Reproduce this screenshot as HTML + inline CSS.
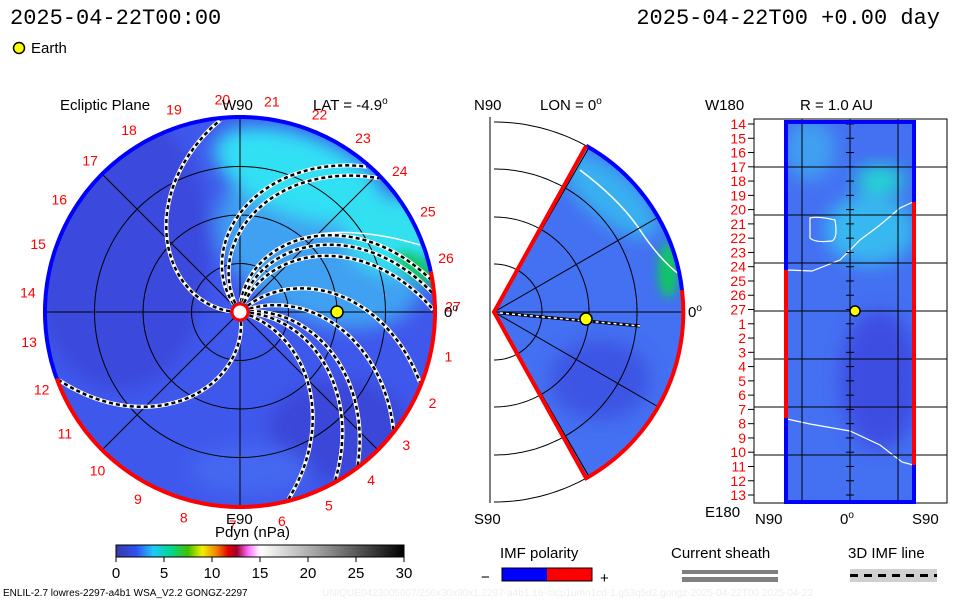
<!DOCTYPE html>
<html><head><meta charset="utf-8">
<style>
body{margin:0;background:#fff;width:960px;height:600px;overflow:hidden}
svg{display:block;font-family:"Liberation Sans",sans-serif}
.t{font-size:15px;fill:#000}
.r{font-size:14px;fill:#f00}
</style></head>
<body>
<svg id="c" width="960" height="600" viewBox="0 0 960 600">
<defs>
<filter id="bl" x="-50%" y="-50%" width="200%" height="200%"><feGaussianBlur stdDeviation="9"/></filter>
<filter id="bl2" x="-50%" y="-50%" width="200%" height="200%"><feGaussianBlur stdDeviation="5"/></filter>
<clipPath id="cc"><circle cx="240" cy="312" r="195"/></clipPath>
<clipPath id="wc"><path d="M494,312 L586.1,145.8 A190,190 0 0,1 586.1,478.2 Z"/></clipPath>
<clipPath id="rc"><rect x="785" y="122" width="130" height="380"/></clipPath>
<linearGradient id="cb" x1="0" x2="1" y1="0" y2="0">
<stop offset="0" stop-color="#3a3aa8"/><stop offset="0.07" stop-color="#3050f0"/><stop offset="0.13" stop-color="#20c8f8"/>
<stop offset="0.19" stop-color="#00d890"/><stop offset="0.25" stop-color="#40c000"/><stop offset="0.3" stop-color="#f0f000"/>
<stop offset="0.35" stop-color="#f08000"/><stop offset="0.39" stop-color="#e00000"/><stop offset="0.42" stop-color="#a00030"/>
<stop offset="0.46" stop-color="#ff70ff"/><stop offset="0.5" stop-color="#ffffff"/><stop offset="0.7" stop-color="#a0a0a0"/>
<stop offset="1" stop-color="#000"/></linearGradient>
</defs>

<text x="10" y="24" font-family="Liberation Mono,monospace" font-size="22">2025-04-22T00:00</text>
<text x="940" y="24" text-anchor="end" font-family="Liberation Mono,monospace" font-size="22">2025-04-22T00 +0.00 day</text>
<g><circle cx="19" cy="48" r="5.5" fill="#ff0" stroke="#000" stroke-width="1.5"/><text x="31" y="53" class="t">Earth</text></g>

<!-- Ecliptic panel -->
<g>
<g clip-path="url(#cc)">
<rect x="40" y="110" width="400" height="400" fill="#3f58ec"/>
<g filter="url(#bl)">
<ellipse cx="120" cy="250" rx="90" ry="140" fill="#3a48dc"/>
<ellipse cx="320" cy="250" rx="110" ry="70" fill="#40a0f2" transform="rotate(25 320 250)"/>
<ellipse cx="300" cy="175" rx="90" ry="40" fill="#30e0f4" transform="rotate(20 300 175)"/>
<ellipse cx="395" cy="235" rx="50" ry="40" fill="#30e0f0"/>
<ellipse cx="340" cy="430" rx="70" ry="50" fill="#3a46d8"/>
<ellipse cx="250" cy="470" rx="60" ry="25" fill="#4468f0"/>
</g>
<ellipse cx="418" cy="268" rx="25" ry="10" fill="#10c860" filter="url(#bl2)" transform="rotate(35 418 268)"/>
<g id="grid1" stroke="#000" stroke-width="1" fill="none"></g>
<g id="spirals"></g>
</g>
<path id="b1" fill="none" stroke-width="4"/>
<circle cx="240" cy="312" r="8" fill="#fff" stroke="#f00" stroke-width="3"/>
<circle cx="337" cy="312" r="6" fill="#ff0" stroke="#000" stroke-width="1.5"/>
<g id="daylabels"></g>
<text x="60" y="110" class="t">Ecliptic Plane</text>
<text x="222" y="110" class="t">W90</text>
<text x="313" y="110" class="t">LAT = -4.9<tspan dy="-6" font-size="10">o</tspan></text>
<text x="444" y="317" class="t">0<tspan dy="-6" font-size="10">o</tspan></text>
<text x="226" y="524" class="t">E90</text>
</g>

<!-- Meridional panel -->
<g>
<g id="grid2" stroke="#000" stroke-width="1" fill="none"></g>
<g clip-path="url(#wc)">
<rect x="490" y="140" width="200" height="345" fill="#4470f2"/>
<g filter="url(#bl)">
<ellipse cx="610" cy="195" rx="60" ry="25" fill="#38b0f0" transform="rotate(40 610 195)"/>
<ellipse cx="600" cy="380" rx="50" ry="40" fill="#3c55e4"/>
</g>
<ellipse cx="668" cy="270" rx="10" ry="28" fill="#10c860" filter="url(#bl2)"/>
<path d="M580,170 Q620,200 640,230 T680,275" stroke="#fff" stroke-width="1.5" fill="none"/>
<g id="grid2b" stroke="#000" stroke-width="1" fill="none"></g>
</g>
<path d="M586.1,145.8 A190,190 0 0,1 682,290" fill="none" stroke="#00f" stroke-width="4"/>
<path d="M682,290 A190,190 0 0,1 586.1,478.2 L494,312 L586.1,145.8" fill="none" stroke="#f00" stroke-width="4"/>
<line x1="500" y1="313" x2="640" y2="326" stroke="#000" stroke-width="3"/>
<line x1="500" y1="313" x2="640" y2="326" stroke="#fff" stroke-width="1.5" stroke-dasharray="3 3"/>
<circle cx="586" cy="319" r="6" fill="#ff0" stroke="#000" stroke-width="1.5"/>
<text x="474" y="110" class="t">N90</text>
<text x="540" y="110" class="t">LON = 0<tspan dy="-6" font-size="10">o</tspan></text>
<text x="688" y="317" class="t">0<tspan dy="-6" font-size="10">o</tspan></text>
<text x="474" y="524" class="t">S90</text>
</g>

<!-- 1 AU panel -->
<g>
<rect x="754" y="119" width="193" height="384" fill="#fff" stroke="#000"/>
<g clip-path="url(#rc)">
<rect x="785" y="122" width="130" height="380" fill="#4470f2"/>
<g filter="url(#bl)">
<ellipse cx="870" cy="230" rx="45" ry="35" fill="#38b8f0"/>
<ellipse cx="880" cy="180" rx="25" ry="14" fill="#20d8d0"/>
<ellipse cx="880" cy="380" rx="40" ry="70" fill="#3c4ee2"/>
<ellipse cx="810" cy="150" rx="25" ry="30" fill="#40a0f0"/>
</g>
<path d="M787,270 L812,271 L840,260 L860,240 L880,225 L900,208 L913,202" stroke="#fff" stroke-width="1.2" fill="none"/>
<path d="M810,218 Q818,216 835,220 Q838,238 832,241 Q815,243 810,238 Z" stroke="#fff" stroke-width="1.2" fill="none"/>
<path d="M787,419 L810,424 L850,431 L880,445 L902,462 L913,465" stroke="#fff" stroke-width="1.2" fill="none"/>
</g>
<g id="grid3" stroke="#000" stroke-width="1"></g>
<rect x="786" y="122" width="128" height="380" fill="none" stroke="#00f" stroke-width="4"/>
<line x1="786" y1="270" x2="786" y2="418" stroke="#f00" stroke-width="4"/>
<line x1="914" y1="202" x2="914" y2="465" stroke="#f00" stroke-width="4"/>
<circle cx="855" cy="311" r="5" fill="#ff0" stroke="#000" stroke-width="1.5"/>
<g id="latlabels"></g>
<text x="705" y="110" class="t">W180</text>
<text x="800" y="110" class="t">R = 1.0 AU</text>
<text x="705" y="517" class="t">E180</text>
<text x="755" y="524" class="t">N90</text>
<text x="840" y="524" class="t">0<tspan dy="-6" font-size="10">o</tspan></text>
<text x="912" y="524" class="t">S90</text>
</g>

<!-- Colorbar -->
<g>
<text x="215" y="537" class="t">Pdyn (nPa)</text>
<rect x="116" y="545" width="288" height="12" fill="url(#cb)" stroke="#000"/>
<g id="cbticks"></g>
</g>

<g>
<text x="500" y="558" class="t">IMF polarity</text>
<text x="481" y="582" class="t">−</text>
<rect x="502" y="568" width="45" height="13" fill="#00f"/><rect x="547" y="568" width="45" height="13" fill="#f00"/>
<rect x="502" y="568" width="90" height="13" fill="none" stroke="#000"/>
<text x="600" y="583" class="t">+</text>
</g>
<g>
<text x="671" y="558" class="t">Current sheath</text>
<rect x="682" y="570" width="96" height="4" fill="#808080"/><rect x="682" y="577" width="96" height="5" fill="#808080"/>
</g>
<g>
<text x="848" y="558" class="t">3D IMF line</text>
<rect x="850" y="569" width="87" height="13" fill="#d0d0d0"/>
<line x1="850" y1="575.5" x2="937" y2="575.5" stroke="#000" stroke-width="3" stroke-dasharray="8 6"/>
</g>
<text x="3" y="596" font-size="10">ENLIL-2.7 lowres-2297-a4b1 WSA_V2.2 GONGZ-2297</text>
<text x="322" y="596" font-size="10" fill="#eeeeee">UNIQUE0423005607/256x30x90x1.2297-a4b1.16-mcp1umn1cd-1.g53q5d2.gongz-2025-04-22T00   2025-04-23</text>
</svg>
<script>
const NS="http://www.w3.org/2000/svg";
const cbTicks=[0,5,10,15,20,25,30];
const dayLabels=[1,2,3,4,5,6,7,8,9,10,11,12,13,14,15,16,17,18,19,20,21,22,23,24,25,26,27];
const latLabels=[14,15,16,17,18,19,20,21,22,23,24,25,26,27,1,2,3,4,5,6,7,8,9,10,11,12,13];
const spiralEnds=[-95,-48,-43,-9,-5,0,22,38,53,61,76,160];
const spiralTwist=[85,85,80,80,75,70,65,60,60,60,60,80];
const ringRadiiAU=[0.5,1,1.5];
function el(tag,attrs,parent){const e=document.createElementNS(NS,tag);for(const k in attrs)e.setAttribute(k,attrs[k]);parent.appendChild(e);return e;}
const cx=240,cy=312,R=195,AU=97;
const g1=document.getElementById('grid1');
ringRadiiAU.forEach(a=>{const c=el('circle',{cx:cx,cy:cy,r:a*AU},g1);});
[0,45,90,135].forEach(d=>{const t=d*Math.PI/180;el('line',{x1:cx-R*Math.cos(t),y1:cy-R*Math.sin(t),x2:cx+R*Math.cos(t),y2:cy+R*Math.sin(t)},g1);});
function arc(a0,a1,r,x0,y0){const p=[];for(let a=a0;a<=a1;a+=1){const t=a*Math.PI/180;p.push((x0+r*Math.cos(t)).toFixed(1)+','+(y0+r*Math.sin(t)).toFixed(1));}return 'M'+p.join(' L');}
const bb=document.getElementById('b1').parentNode;
el('path',{d:arc(160,348,R,cx,cy),fill:'none',stroke:'#00f','stroke-width':4},bb);
el('path',{d:arc(-12,160,R,cx,cy),fill:'none',stroke:'#f00','stroke-width':4},bb);
const sg=document.getElementById('spirals');
el('path',{d:'M242,305 C250,240 320,215 420,245',fill:'none',stroke:'#fff','stroke-width':1.5},sg);
spiralEnds.forEach((e,i)=>{const pts=[];const tw=spiralTwist[i]*Math.PI/180;for(let r=10;r<=R;r+=3){const th=e*Math.PI/180-tw*(1-r/R);pts.push((cx+r*Math.cos(th)).toFixed(1)+','+(cy+r*Math.sin(th)).toFixed(1));}
const d='M'+pts.join(' L');
const b=el('path',{d:d,fill:'none',stroke:'#fff','stroke-width':4},sg);


el('path',{d:d,fill:'none',stroke:'#000','stroke-width':2.5,'stroke-dasharray':'4 3'},sg);});
const dl=document.getElementById('daylabels');
dayLabels.forEach(n=>{const t=(12+(n-1)*13.33)*Math.PI/180;const x=cx+213*Math.cos(t),y=cy+213*Math.sin(t)+5;const tx=el('text',{x:x,y:y,'text-anchor':'middle',class:'r'},dl);tx.textContent=n;

});
const mx=494,my=312,MR=190;
const g2=document.getElementById('grid2');
[48,95,143,190].forEach(r=>el('path',{d:arc(-90,90,r,mx,my)},g2));
el('line',{x1:490,y1:117,x2:490,y2:503},g2);
const g2b=document.getElementById('grid2b');
[-60,-30,0,30,60].forEach(a=>{const t=a*Math.PI/180;el('line',{x1:mx,y1:my,x2:mx+MR*Math.cos(t),y2:my+MR*Math.sin(t)},g2b);});
[48,95,143].forEach(r=>el('path',{d:arc(-90,90,r,mx,my)},g2b));
const g3=document.getElementById('grid3');
[167,215,263,311,359,407,455].forEach(y=>el('line',{x1:754,y1:y,x2:947,y2:y},g3));
[802,850,898].forEach(x=>el('line',{x1:x,y1:119,x2:x,y2:503},g3));
for(let i=0;i<27;i++){const y=124+i*14.27;el('line',{x1:846,y1:y,x2:854,y2:y},g3);}
const ll=document.getElementById('latlabels');
latLabels.forEach((n,i)=>{const y=124+i*14.27;el('line',{x1:748,y1:y,x2:754,y2:y,stroke:'#000'},ll);const t=el('text',{x:746,y:y+5,'text-anchor':'end',class:'r'},ll);t.textContent=n;

});
const cbt=document.getElementById('cbticks');
cbTicks.forEach(v=>{const x=116+v*9.6;el('line',{x1:x,y1:557,x2:x,y2:562,stroke:'#000'},cbt);const t=el('text',{x:x,y:578,'text-anchor':'middle',class:'t'},cbt);t.textContent=v;

});
</script>
</body></html>
